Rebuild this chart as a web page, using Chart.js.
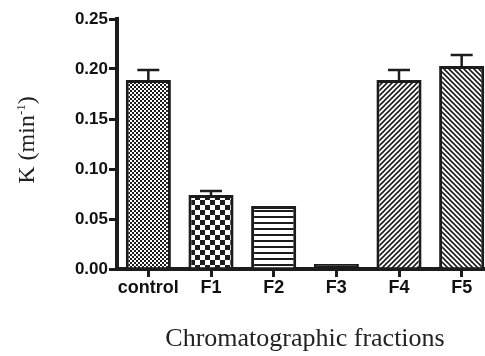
<!DOCTYPE html>
<html>
<head>
<meta charset="utf-8">
<script src="https://cdn.jsdelivr.net/npm/chart.js@4.4.1/dist/chart.umd.min.js"></script>
<style>
  html, body { margin: 0; padding: 0; background: #fff; overflow: hidden; }
  #wrap { width: 495px; height: 356px; }
</style>
</head>
<body>
<div id="wrap"><canvas id="chart" width="495" height="356"></canvas></div>
<script>
// data
const fractions = ["control", "F1", "F2", "F3", "F4", "F5"];
const kValues = [0.189, 0.074, 0.063, 0.005, 0.189, 0.203];
const kErrors = [0.010, 0.004, 0, 0, 0.010, 0.011];
const yTicks = [0, 0.05, 0.10, 0.15, 0.20, 0.25];

const INK = "#1c1c1c";

/* ========================
   FILL PATTERNS
   ======================== */
function makePattern(size, draw) {
  const c = document.createElement("canvas");
  c.width = size; c.height = size;
  const g = c.getContext("2d");
  g.fillStyle = "#fff";
  g.fillRect(0, 0, size, size);
  g.fillStyle = INK;
  g.strokeStyle = INK;
  draw(g, size);
  return document.getElementById("chart").getContext("2d").createPattern(c, "repeat");
}

const fineChecker = makePattern(4, (g) => {
  g.fillRect(0, 0, 2, 2);
  g.fillRect(2, 2, 2, 2);
});
const bigChecker = makePattern(10, (g) => {
  g.fillRect(0, 0, 5, 5);
  g.fillRect(5, 5, 5, 5);
});
const hLines = makePattern(6, (g) => {
  g.fillRect(0, 0, 6, 2);
});
const slashLines = makePattern(5, (g, s) => {
  g.lineWidth = 1.6;
  g.beginPath();
  g.moveTo(0, s); g.lineTo(s, 0);
  g.moveTo(-1, 1); g.lineTo(1, -1);
  g.moveTo(s - 1, s + 1); g.lineTo(s + 1, s - 1);
  g.stroke();
});
const backLines = makePattern(5, (g, s) => {
  g.lineWidth = 1.6;
  g.beginPath();
  g.moveTo(0, 0); g.lineTo(s, s);
  g.moveTo(s - 1, -1); g.lineTo(s + 1, 1);
  g.moveTo(-1, s - 1); g.lineTo(1, s + 1);
  g.stroke();
});
const fills = [fineChecker, bigChecker, hLines, INK, slashLines, backLines];

/* ========================
   PLUGINS
   ======================== */
const errorBars = {
  id: "errorBars",
  afterDatasetsDraw(chart) {
    const ctx = chart.ctx;
    const yScale = chart.scales.y;
    const meta = chart.getDatasetMeta(0);
    ctx.save();
    ctx.strokeStyle = INK;
    ctx.lineWidth = 2.5;
    meta.data.forEach((bar, i) => {
      if (!kErrors[i]) return;
      const top = yScale.getPixelForValue(kValues[i] + kErrors[i]);
      ctx.beginPath();
      ctx.moveTo(bar.x, bar.y);
      ctx.lineTo(bar.x, top);
      ctx.moveTo(bar.x - 11, top);
      ctx.lineTo(bar.x + 11, top);
      ctx.stroke();
    });
    ctx.restore();
  }
};

// y title with a small superscript
const yTitle = {
  id: "yTitle",
  afterDraw(chart) {
    const ctx = chart.ctx;
    const area = chart.chartArea;
    const big = "24px 'Liberation Serif', 'Times New Roman', serif";
    const small = "13px 'Liberation Serif', 'Times New Roman', serif";
    const parts = [["K (min", big, 0], ["-1", small, -9], [")", big, 0]];
    ctx.save();
    let total = 0;
    parts.forEach(p => { ctx.font = p[1]; total += ctx.measureText(p[0]).width; });
    ctx.translate(chart.scales.y.left + 34, (area.top + area.bottom) / 2 - 4);
    ctx.rotate(-Math.PI / 2);
    ctx.fillStyle = "#222";
    ctx.textBaseline = "alphabetic";
    let x = -total / 2;
    parts.forEach(p => {
      ctx.font = p[1];
      ctx.fillText(p[0], x, p[2]);
      x += ctx.measureText(p[0]).width;
    });
    ctx.restore();
  }
};

/* ========================
   CHART
   ======================== */
const tickFont = { family: "'Liberation Sans', Arial, sans-serif", size: 17, weight: "bold" };

new Chart(document.getElementById("chart"), {
  type: "bar",
  data: {
    labels: fractions,
    datasets: [{
      data: kValues,
      backgroundColor: fills,
      borderColor: INK,
      borderWidth: 3,
      categoryPercentage: 1,
      barPercentage: 0.72
    }]
  },
  options: {
    responsive: false,
    animation: false,
    layout: { padding: { top: 19, right: 2, left: 0, bottom: 0 } },
    plugins: { legend: { display: false }, tooltip: { enabled: false } },
    scales: {
      x: {
        grid: { display: true, drawOnChartArea: false, offset: false, tickLength: 8, lineWidth: 3, color: INK },
        border: { display: true, width: 4, color: INK },
        ticks: { color: "#111", font: { ...tickFont, size: 18 }, padding: 0, maxRotation: 0, autoSkip: false },
        title: {
          display: true,
          text: "Chromatographic fractions",
          color: "#222",
          font: { family: "'Liberation Serif', 'Times New Roman', serif", size: 26 },
          padding: { top: 0, bottom: 1 }
        },
        afterFit(scale) { scale.height = 87; }
      },
      y: {
        min: 0,
        max: 0.25,
        afterBuildTicks(scale) { scale.ticks = yTicks.map(v => ({ value: v })); },
        grid: { display: true, drawOnChartArea: false, tickLength: 8, lineWidth: 3, color: INK },
        border: { display: true, width: 4, color: INK },
        ticks: {
          color: "#111",
          font: tickFont,
          padding: 1,
          callback: v => v.toFixed(2)
        },
        afterFit(scale) { scale.width = 117; }
      }
    }
  },
  plugins: [errorBars, yTitle]
});
</script>
</body>
</html>
